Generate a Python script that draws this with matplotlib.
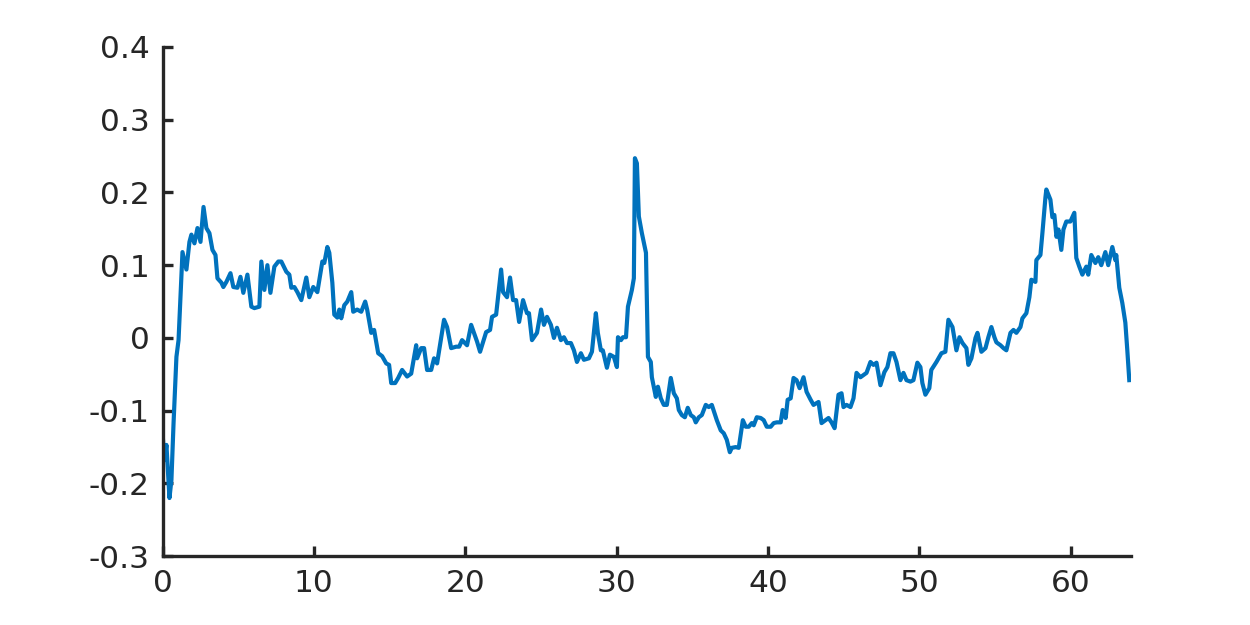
import matplotlib
matplotlib.use("Agg")
import matplotlib.pyplot as plt
import numpy as np

t = [0, 0.13, 0.26, 0.46, 0.59, 0.73, 0.92, 1.06, 1.32, 1.58, 1.78, 1.91, 2.11, 2.31, 2.51, 2.71,
     2.90, 3.10, 3.30, 3.50, 3.63, 3.89, 4.02, 4.22, 4.49, 4.68, 4.95, 5.15, 5.34, 5.61, 5.87,
     6.07, 6.40, 6.53, 6.73, 6.93, 7.13, 7.39, 7.65, 7.85, 8.18, 8.38, 8.51, 8.71, 8.91, 9.17,
     9.50, 9.70, 9.96, 10.23,
     10.56, 10.69, 10.89, 11.02, 11.22, 11.35, 11.55, 11.68, 11.81, 12.01, 12.21, 12.47, 12.60,
     12.86, 13.13, 13.39, 13.52, 13.79, 13.98, 14.25, 14.51, 14.78, 14.97, 15.11, 15.37, 15.57,
     15.83, 16.16, 16.43, 16.76, 16.82, 17.09, 17.28, 17.48, 17.75, 17.94, 18.14, 18.60, 18.80,
     19.07, 19.40, 19.60, 19.79, 20.12, 20.39,
     20.78, 20.98, 21.38, 21.64, 21.77, 22.04, 22.37, 22.50, 22.76, 22.96, 23.16, 23.36, 23.56,
     23.82, 24.08, 24.21, 24.41, 24.74, 25.01, 25.20, 25.40, 25.66, 25.86, 26.06, 26.32, 26.52,
     26.72, 26.98, 27.18, 27.38, 27.64, 27.84, 28.17, 28.37, 28.63, 28.76, 28.96, 29.09, 29.36,
     29.56, 29.82, 30.02, 30.09, 30.29, 30.42,
     30.62, 30.75, 31.01, 31.14, 31.21, 31.34, 31.47, 31.67, 31.94, 32.07, 32.26, 32.33, 32.59,
     32.73, 32.92, 33.12, 33.32, 33.58, 33.78, 33.98, 34.11, 34.31, 34.51, 34.70, 34.90, 35.10,
     35.23, 35.43, 35.63, 35.89, 36.09, 36.29, 36.62, 36.88, 37.08, 37.28, 37.48, 37.61, 37.87,
     38.07, 38.34, 38.53, 38.73, 38.93, 39.06, 39.26, 39.52, 39.72, 39.92, 40.18, 40.38, 40.58,
     40.84, 40.97, 41.17, 41.30, 41.50, 41.69, 41.89, 42.09, 42.35, 42.55, 42.82, 43.01, 43.34,
     43.54, 43.80, 44.00, 44.20, 44.40, 44.66, 44.86, 44.99, 45.19, 45.45, 45.65, 45.85, 46.11,
     46.31, 46.51, 46.77, 46.97, 47.17, 47.43, 47.69, 47.89, 48.09, 48.29, 48.49, 48.75, 48.95,
     49.15, 49.41, 49.61, 49.87, 50.07, 50.20, 50.40, 50.66, 50.79,
     51.13, 51.46, 51.72, 51.92, 52.19, 52.45, 52.65, 52.85, 53.11, 53.24, 53.44, 53.71, 53.84,
     54.10, 54.37, 54.56, 54.76, 54.96, 55.09, 55.36, 55.56, 55.75, 56.02, 56.22, 56.41, 56.68,
     56.81, 57.07, 57.27, 57.40, 57.67, 57.73, 58.00, 58.13, 58.33, 58.39, 58.66, 58.79, 58.92,
     59.06, 59.19, 59.38, 59.52, 59.71, 59.98, 60.11, 60.24, 60.37, 60.57, 60.77, 61.03, 61.16,
     61.36, 61.63, 61.82, 62.02, 62.29, 62.48, 62.75, 62.95, 63.01, 63.21, 63.41, 63.61, 63.74,
     63.87]

values = [-0.13, -0.168, -0.147, -0.22, -0.195, -0.117, -0.026, -0.003, 0.118, 0.094, 0.132, 0.142,
          0.13, 0.151, 0.132, 0.18, 0.151, 0.144, 0.121, 0.114, 0.082, 0.076, 0.07, 0.077, 0.089,
          0.07, 0.069, 0.084, 0.062, 0.087, 0.043, 0.041, 0.043, 0.105, 0.066, 0.1, 0.062, 0.098,
          0.105, 0.105, 0.091, 0.087, 0.069, 0.07, 0.063, 0.052, 0.083, 0.056, 0.07, 0.063,
          0.105, 0.103, 0.125, 0.117, 0.076, 0.032, 0.028, 0.039, 0.027, 0.045, 0.05, 0.063, 0.036,
          0.039, 0.036, 0.05, 0.039, 0.007, 0.011, -0.021, -0.025, -0.035, -0.037, -0.062, -0.062,
          -0.055, -0.044, -0.053, -0.049, -0.01, -0.028, -0.014, -0.014, -0.044, -0.044, -0.028,
          -0.035, 0.025, 0.015, -0.014, -0.012, -0.012, -0.003, -0.01, 0.018,
          -0.005, -0.019, 0.008, 0.011, 0.029, 0.032, 0.094, 0.063, 0.056, 0.083, 0.052, 0.052,
          0.022, 0.052, 0.034, 0.034, -0.003, 0.007, 0.039, 0.018, 0.029, 0.018, 0.0, 0.014, -0.003,
          0.001, -0.007, -0.007, -0.017, -0.033, -0.021, -0.030, -0.028, -0.019, 0.034, 0.007,
          -0.017, -0.017, -0.041, -0.023, -0.026, -0.04, 0.001, -0.003, 0.001,
          0.001, 0.043, 0.066, 0.082, 0.247, 0.24, 0.167, 0.144, 0.117, -0.026, -0.033, -0.054,
          -0.081, -0.067, -0.083, -0.092, -0.092, -0.055, -0.076, -0.083, -0.099, -0.106, -0.109,
          -0.096, -0.106, -0.109, -0.116, -0.109, -0.106, -0.092, -0.095, -0.092, -0.113, -0.127,
          -0.131, -0.140, -0.157, -0.151, -0.150, -0.151, -0.113, -0.122, -0.122, -0.117, -0.12,
          -0.109, -0.11, -0.113, -0.122, -0.122, -0.117, -0.116,
          -0.116, -0.099, -0.11, -0.085, -0.083, -0.055, -0.058, -0.069, -0.054, -0.074, -0.085,
          -0.092, -0.088, -0.117, -0.113, -0.11, -0.116, -0.124, -0.078, -0.076, -0.095, -0.092,
          -0.095, -0.083, -0.048, -0.054, -0.051, -0.048, -0.033, -0.037, -0.034, -0.065, -0.047,
          -0.04, -0.021, -0.021, -0.033, -0.058, -0.048, -0.058, -0.06, -0.058, -0.034, -0.04,
          -0.062, -0.078, -0.069, -0.044,
          -0.033, -0.021, -0.019, 0.025, 0.015, -0.017, 0.001, -0.007, -0.014, -0.037, -0.028, 0.0,
          0.007, -0.019, -0.014, 0.001, 0.015, 0.001, -0.006, -0.01, -0.014, -0.017, 0.007, 0.011,
          0.007, 0.015, 0.027, 0.034, 0.056, 0.08, 0.077, 0.107, 0.114, 0.144, 0.193, 0.204, 0.19,
          0.166, 0.169, 0.139, 0.149, 0.121, 0.149, 0.160, 0.160, 0.166, 0.172, 0.11, 0.098, 0.087,
          0.098, 0.087, 0.114, 0.103, 0.111, 0.1, 0.118, 0.1, 0.125, 0.107, 0.114, 0.069, 0.048,
          0.021, -0.017, -0.058]

xticks = [0, 10, 20, 30, 40, 50, 60]
yticks = [-0.3, -0.2, -0.1, 0, 0.1, 0.2, 0.3, 0.4]
ytick_labels = ["-0.3", "-0.2", "-0.1", "0", "0.1", "0.2", "0.3", "0.4"]

fig = plt.figure(figsize=(12.5, 6.25), dpi=100)
ax = fig.add_axes([0.13, 0.11, 0.775, 0.815])
ax.plot(t, values, color="#0072BD", linewidth=3.0)

ax.set_xlim(0, 64)
ax.set_ylim(-0.3, 0.4)
ax.set_xticks(xticks)
ax.set_yticks(yticks)
ax.set_yticklabels(ytick_labels)

for s in ["top", "right"]:
    ax.spines[s].set_visible(False)
for s in ["left", "bottom"]:
    ax.spines[s].set_linewidth(2.4)
    ax.spines[s].set_color("#262626")
ax.tick_params(direction="in", length=7, width=2.4, color="#262626",
               labelcolor="#262626", labelsize=22.5, pad=9)

fig.savefig("out.png", dpi=100, facecolor="white")
